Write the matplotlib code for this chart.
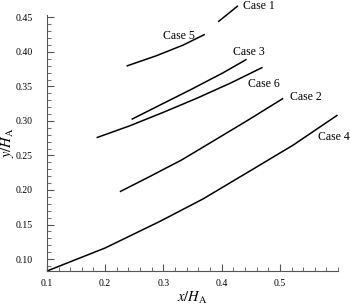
import matplotlib.pyplot as plt
from matplotlib.ticker import MultipleLocator, FixedLocator

plt.rcParams['font.family'] = ['Liberation Serif', 'DejaVu Serif']
plt.rcParams['mathtext.fontset'] = 'stix'

# values (x/H_A, y/H_A)
case1_x = [0.394, 0.411, 0.428]
case1_y = [0.4436, 0.4551, 0.4668]
case5_x = [0.2368, 0.2883, 0.334, 0.3712]
case5_y = [0.3795, 0.3945, 0.4099, 0.4254]
case3_x = [0.2454, 0.2883, 0.3455, 0.4027, 0.4428]
case3_y = [0.3023, 0.3205, 0.3447, 0.3698, 0.3892]
case6_x = [0.1853, 0.2425, 0.2997, 0.357, 0.4142, 0.4703]
case6_y = [0.2757, 0.2930, 0.3124, 0.3327, 0.3544, 0.3776]
case2_x = [0.2253, 0.2739, 0.3312, 0.3884, 0.4456, 0.5057]
case2_y = [0.1975, 0.2183, 0.2434, 0.2723, 0.3013, 0.3327]
case4_x = [0.10, 0.20, 0.294, 0.368, 0.4456, 0.5228, 0.599]
case4_y = [0.0826, 0.116, 0.1545, 0.187, 0.2260, 0.2650, 0.3085]

curves = [(case1_x, case1_y), (case5_x, case5_y), (case3_x, case3_y),
          (case6_x, case6_y), (case2_x, case2_y), (case4_x, case4_y)]

# label text and where it sits (left edge, vertical centre)
labels = ['Case 1', 'Case 5', 'Case 3', 'Case 6', 'Case 2', 'Case 4']
label_x = [0.4365, 0.2986, 0.4187, 0.4456, 0.5172, 0.5652]
label_y = [0.4665, 0.4234, 0.4002, 0.3530, 0.3342, 0.2771]

fig = plt.figure(figsize=(3.5, 3.08), dpi=100)
ax = fig.add_axes([0.134, 0.12, 0.832, 0.831])

for xs, ys in curves:
    ax.plot(xs, ys, color='black', lw=1.1, clip_on=False,
            solid_joinstyle='round', solid_capstyle='butt')

for t, lx, ly in zip(labels, label_x, label_y):
    ax.text(lx, ly, t, fontsize=8.5, ha='left', va='center')

ax.set_xlim(0.1, 0.6)
ax.set_ylim(0.0826, 0.4533)
ax.xaxis.set_major_locator(FixedLocator([0.1, 0.2, 0.3, 0.4, 0.5]))
ax.xaxis.set_minor_locator(MultipleLocator(0.02))
ax.yaxis.set_minor_locator(MultipleLocator(0.01))
ax.set_xticklabels(['0.1', '0.2', '0.3', '0.4', '0.5'])
ax.set_yticks([0.10, 0.15, 0.20, 0.25, 0.30, 0.35, 0.40, 0.45])
ax.set_yticklabels(['0.10', '0.15', '0.20', '0.25', '0.30', '0.35', '0.40', '0.45'])

ax.spines['top'].set_visible(False)
ax.spines['right'].set_visible(False)
ax.spines['left'].set_color('#555555')
ax.spines['bottom'].set_color('#555555')
ax.tick_params(which='both', direction='in', color='#555555', labelsize=7)
ax.tick_params(which='major', length=5, width=0.8)
ax.tick_params(which='minor', length=3, width=0.6)
ax.tick_params(axis='y', pad=10)
ax.tick_params(axis='x', pad=6)

ax.set_xlabel(r'$x/H_\mathrm{A}$', fontsize=10.5, labelpad=1)
ax.set_ylabel(r'$y/H_\mathrm{A}$', fontsize=10.5)
ax.yaxis.set_label_coords(-0.106, 0.5)

fig.savefig('out.png', dpi=100)
